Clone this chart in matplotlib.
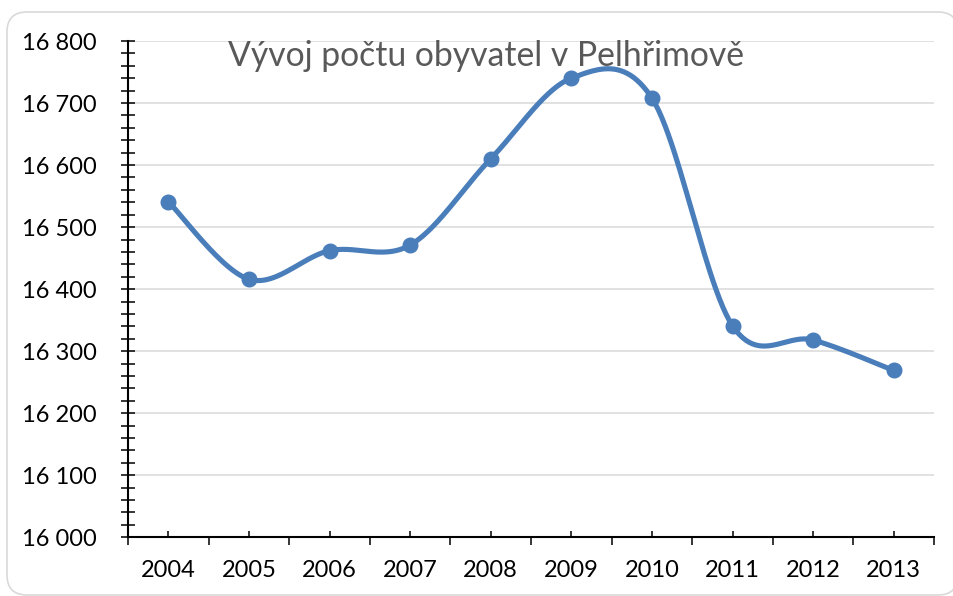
import numpy as np
import matplotlib
matplotlib.use("Agg")
import matplotlib.pyplot as plt
from matplotlib.patches import FancyBboxPatch
from matplotlib.ticker import MultipleLocator, FuncFormatter, FixedLocator

plt.rcParams['font.family'] = ['Lato', 'DejaVu Sans']

# ---- data ----
years = ["2004", "2005", "2006", "2007", "2008", "2009", "2010", "2011", "2012", "2013"]
population = [16541, 16416, 16462, 16471, 16610, 16740, 16708, 16341, 16318, 16269]
title = "Vývoj počtu obyvatel v Pelhřimově"
y_min, y_max = 16000, 16800
y_major, y_minor = 100, 20

LINE = "#4a7ebb"
GRID = "#d9d9d9"


def smooth(xs, ys, n=50):
    """Excel-like smoothed line (Catmull-Rom Bezier)."""
    P = np.column_stack([xs, ys]).astype(float)
    m = len(P)
    out = []
    t = np.linspace(0, 1, n)[:, None]
    for i in range(m - 1):
        p0 = P[i - 1] if i > 0 else P[i]
        p1, p2 = P[i], P[i + 1]
        p3 = P[i + 2] if i + 2 < m else P[i + 1]
        c1 = p1 + (p2 - p0) / 6
        c2 = p2 - (p3 - p1) / 6
        seg = (1 - t) ** 3 * p1 + 3 * (1 - t) ** 2 * t * c1 + 3 * (1 - t) * t ** 2 * c2 + t ** 3 * p2
        out.append(seg if i == 0 else seg[1:])
    return np.vstack(out)


W, H = 954, 596
fig = plt.figure(figsize=(W / 100, H / 100), dpi=100)

# chart border (rounded)
border = FancyBboxPatch((7 / 100, 1 / 100), (958 - 7) / 100, (584 - 1) / 100,
                        boxstyle="round,pad=0,rounding_size=0.2",
                        transform=fig.dpi_scale_trans, facecolor="white",
                        edgecolor=GRID, linewidth=1.2, zorder=-5)
fig.patches.append(border)

ax = fig.add_axes([128 / W, 58.7 / H, 806 / W, 496.3 / H])
ax.set_zorder(2)
ax.set_facecolor("none")

x = np.arange(1, len(years) + 1)
curve = smooth(x, population)
ax.plot(curve[:, 0], curve[:, 1], color=LINE, lw=3.7, solid_capstyle="round", zorder=3, clip_on=False)
ax.plot(x, population, ls="none", marker="o", ms=10.5, color=LINE, zorder=4, clip_on=False)

ax.set_xlim(0.5, len(years) + 0.5)
ax.set_ylim(y_min, y_max)

# y axis
ax.yaxis.set_major_locator(MultipleLocator(y_major))
ax.yaxis.set_minor_locator(MultipleLocator(y_minor))
ax.yaxis.set_major_formatter(FuncFormatter(lambda v, p: f"{int(v):,}".replace(",", " ")))
ax.tick_params(axis="y", which="major", direction="inout", length=10.5, width=1.1,
               labelsize=17, pad=17, colors="black")
ax.tick_params(axis="y", which="minor", direction="inout", length=9.5, width=1.1, colors="black")

# x axis
ax.xaxis.set_major_locator(FixedLocator(x))
ax.set_xticklabels(years)
ax.xaxis.set_minor_locator(FixedLocator(np.arange(0.5, len(years) + 1, 1.0)))
ax.tick_params(axis="x", which="major", direction="in", length=4.5, width=1.1,
               labelsize=17, pad=16, colors="black")
ax.tick_params(axis="x", which="minor", direction="out", length=5.8, width=1.1, colors="black")

ax.grid(axis="y", which="major", color=GRID, lw=1.1, zorder=0)
ax.set_axisbelow(True)
for s in ["top", "right"]:
    ax.spines[s].set_visible(False)
for s in ["left", "bottom"]:
    ax.spines[s].set_linewidth(1.5)
    ax.spines[s].set_color("black")

fig.text(486 / W, 1 - 66 / H, title, ha="center", va="baseline",
         fontsize=24.3, color="#595959", zorder=5)

fig.savefig("out.png", dpi=100)
